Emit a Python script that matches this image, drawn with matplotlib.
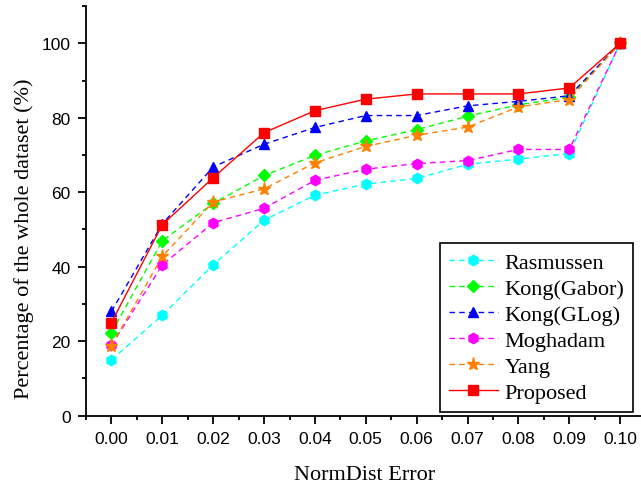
import matplotlib

matplotlib.use("Agg")
import matplotlib.pyplot as plt
from matplotlib.ticker import MultipleLocator

# cumulative share of the dataset below each normalised-distance threshold
norm_dist = [0.00, 0.01, 0.02, 0.03, 0.04, 0.05, 0.06, 0.07, 0.08, 0.09, 0.10]
rasmussen = [15.0, 27.0, 40.5, 52.5, 59.2, 62.2, 63.7, 67.5, 68.9, 70.4, 100.0]
kong_gabor = [22.3, 47.0, 57.0, 64.5, 69.9, 73.8, 76.8, 80.4, 83.5, 85.5, 100.0]
kong_glog = [28.0, 51.5, 66.8, 72.9, 77.4, 80.6, 80.6, 83.2, 84.4, 85.9, 100.0]
moghadam = [18.9, 40.5, 51.8, 55.7, 63.2, 66.2, 67.7, 68.5, 71.5, 71.5, 100.0]
yang = [18.8, 42.8, 57.4, 60.9, 67.9, 72.3, 75.3, 77.5, 82.9, 84.9, 100.0]
proposed = [25.0, 51.3, 63.9, 76.0, 81.9, 85.0, 86.4, 86.4, 86.4, 88.0, 100.0]

SERIES = [
    ("Rasmussen", rasmussen, "#00FFFF", "h", "--"),
    ("Kong(Gabor)", kong_gabor, "#00FF00", "D", "--"),
    ("Kong(GLog)", kong_glog, "#0000FF", "^", "--"),
    ("Moghadam", moghadam, "#FF00FF", "h", "--"),
    ("Yang", yang, "#FF8000", "*", "--"),
    ("Proposed", proposed, "#FF0000", "s", "-"),
]

SERIF = ["Liberation Serif", "DejaVu Serif"]
SANS = ["Liberation Sans", "DejaVu Sans"]

fig = plt.figure(figsize=(6.41, 4.85), dpi=100)
ax = fig.add_axes([0.1342, 0.1408, 0.869, 0.8447])

for name, values, color, marker, style in SERIES:
    msize = 9.5 if marker == "*" else (6.5 if marker == "D" else 7.5)
    line, = ax.plot(norm_dist, values, linestyle=style, color=color, linewidth=1.0,
                    marker=marker, markersize=msize, markerfacecolor=color,
                    markeredgecolor=color, label=name)
    if style == "--":
        line.set_dashes((4, 3))

ax.set_xlim(-0.005, 0.1045)
ax.set_ylim(0, 110)
ax.xaxis.set_major_locator(MultipleLocator(0.01))
ax.xaxis.set_minor_locator(MultipleLocator(0.005))
ax.yaxis.set_major_locator(MultipleLocator(20))
ax.yaxis.set_minor_locator(MultipleLocator(10))
ax.set_xticks(norm_dist, [f"{v:.2f}" for v in norm_dist])
ax.set_yticks([0, 20, 40, 60, 80, 100])

ax.spines[["top", "right"]].set_visible(False)
for side in ("left", "bottom"):
    ax.spines[side].set_linewidth(1.3)
ax.tick_params(which="major", direction="out", length=6, width=1.3, pad=5)
ax.tick_params(which="minor", direction="out", length=3, width=1.3)
for lbl in ax.get_xticklabels() + ax.get_yticklabels():
    lbl.set_family(SANS)
    lbl.set_fontsize(12.5)

ax.set_xlabel("NormDist Error", family=SERIF, fontsize=16, labelpad=14)
ax.set_ylabel("Percentage of the whole dataset (%)", family=SERIF, fontsize=16)
ax.yaxis.set_label_coords(-0.094, 0.434)

leg = ax.legend(loc="lower right", bbox_to_anchor=(0.982, 0.009), frameon=True,
                fancybox=False, edgecolor="black", framealpha=1.0,
                prop={"family": SERIF, "size": 16}, handlelength=2.2,
                handletextpad=0.3, labelspacing=0.25, borderpad=0.4,
                borderaxespad=0.0, numpoints=1)
leg.get_frame().set_linewidth(1.2)

fig.savefig("out.png", dpi=100)
